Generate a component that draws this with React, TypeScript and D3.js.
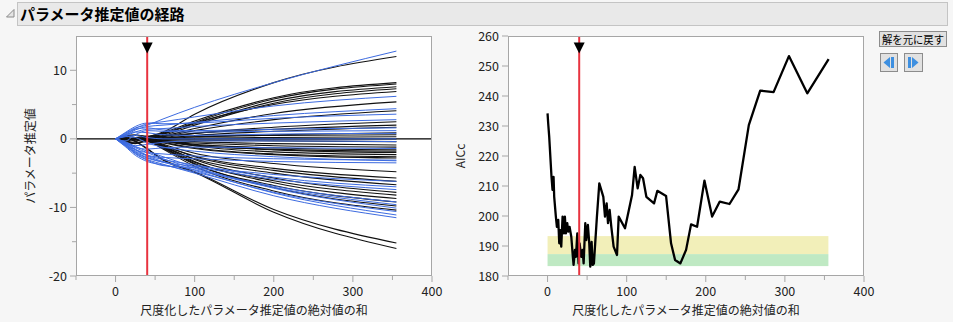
import React from "react";
import * as d3 from "d3";

// x knots (scaled sum of |estimates|) at which path values are given (value at 0 is 0)
const KX = [0, 12, 25, 40, 60, 100, 200, 355];

// values at KX[1..] for each parameter path
const BLACK_PATHS: number[][] = [
  [0, 0.2, 0.3, 1.0, 3.6, 8.2, 12.0],
  [0.3, 0.5, 0.4, 0.9, 2.6, 6.0, 8.2],
  [0, 0, 0.1, 0.7, 2.4, 5.8, 8.0],
  [0, 0.1, 0.2, 0.8, 2.2, 5.5, 7.6],
  [0, 0, 0, 0.5, 2.0, 5.2, 7.3],
  [-0.3, -0.1, 0.2, 0.7, 2.3, 5.0, 6.9],
  [0, 0, 0.1, 0.4, 1.5, 3.7, 5.4],
  [0, 0, 0, 0.3, 1.2, 2.8, 4.1],
  [0, 0, 0, 0.2, 0.8, 1.7, 2.5],
  [0.4, 0.6, 0.3, 0.4, 0.8, 1.4, 2.0],
  [0, 0, 0, 0.1, 0.5, 1.1, 1.7],
  [0, 0, 0, 0, 0.3, 0.6, 0.9],
  [-0.4, -0.6, -0.2, 0.1, 0.3, 0.5, 0.6],
  [0, 0, 0, 0, 0.1, 0.2, 0.3],
  [0.2, -0.3, 0, 0, 0, 0, 0],
  [0, 0, 0, -0.1, -0.2, -0.3, -0.4],
  [0, 0, 0, -0.2, -0.4, -0.7, -0.9],
  [-0.5, -0.7, -0.3, -0.4, -0.6, -1.0, -1.2],
  [0, 0, 0, -0.3, -0.8, -1.3, -1.6],
  [0, 0, -0.1, -0.4, -1.0, -1.5, -1.8],
  [0, 0, 0, -0.3, -0.9, -1.6, -2.0],
  [0.3, 0.5, 0.2, -0.2, -1.0, -1.9, -2.3],
  [0, 0, 0, -0.5, -1.3, -2.2, -2.6],
  [0, 0, -0.2, -0.6, -1.4, -2.3, -2.8],
  [0, 0, 0, -0.8, -2.1, -3.6, -4.8],
  [0, 0, -0.2, -1.0, -2.5, -4.3, -5.7],
  [0, 0, 0, -0.9, -2.6, -4.6, -6.2],
  [-0.3, -0.5, -0.4, -1.2, -2.9, -5.0, -6.7],
  [0, 0, 0, -1.0, -3.0, -5.7, -7.8],
  [0, 0, -0.1, -1.3, -3.4, -6.1, -8.2],
  [0, 0, 0, -1.1, -3.3, -6.4, -8.7],
  [0, 0, -0.3, -1.4, -3.7, -6.8, -9.2],
  [0, 0, 0, -1.2, -3.6, -7.1, -9.8],
  [0, 0, -0.2, -1.5, -4.0, -7.6, -10.4],
  [0.2, -0.4, -1.5, -3.0, -4.8, -10.3, -15.2],
  [0.3, -0.3, -1.4, -3.1, -4.9, -10.7, -16.0],
];

const BLUE_PATHS: number[][] = [
  [0.8, 1.6, 2.0, 2.9, 4.6, 8.2, 12.8],
  [0.6, 1.5, 2.2, 2.5, 3.2, 4.8, 6.2],
  [0.5, 1.3, 1.8, 2.0, 2.4, 3.4, 4.4],
  [0.9, 1.8, 2.3, 2.2, 2.3, 3.0, 3.6],
  [0.4, 1.0, 1.4, 1.5, 1.8, 2.3, 2.8],
  [0.7, 1.4, 1.6, 1.3, 1.2, 1.4, 1.6],
  [-0.3, 0.6, 1.2, 1.1, 1.0, 1.1, 1.2],
  [0.5, 1.0, 0.9, 0.6, 0.5, 0.7, 0.8],
  [0.3, 0.5, 0.2, 0, 0, 0, 0],
  [-0.5, -1.0, -0.8, -0.5, -0.3, -0.3, -0.4],
  [-0.6, -1.2, -1.5, -1.3, -1.2, -1.3, -1.4],
  [-0.8, -1.6, -2.0, -2.2, -2.5, -2.9, -3.1],
  [0.4, 0.2, -0.6, -1.2, -1.8, -2.6, -3.2],
  [-0.7, -1.8, -2.4, -2.7, -2.9, -3.3, -3.5],
  [-0.9, -2.0, -2.8, -3.4, -4.0, -5.2, -6.2],
  [-0.6, -1.5, -2.4, -3.0, -3.8, -5.6, -7.0],
  [-1.0, -2.2, -3.1, -3.9, -4.2, -5.9, -7.4],
  [-0.5, -1.3, -2.0, -2.9, -4.3, -6.9, -9.2],
  [-0.8, -1.9, -2.7, -3.4, -4.5, -7.1, -9.6],
  [-0.4, -1.1, -1.8, -2.6, -4.1, -7.2, -10.1],
  [-1.1, -2.4, -3.3, -3.8, -4.8, -7.8, -10.6],
  [-0.6, -1.6, -2.5, -3.3, -4.6, -7.9, -11.1],
  [-0.9, -2.1, -3.0, -3.7, -5.0, -8.3, -11.5],
];

// AICc path
const AIC_X = [0, 0.8, 2.1, 5, 6.3, 7.6, 8.4, 10.5, 11.8, 13.5, 14.8, 16, 17.3, 19, 20.7, 21.9, 23.2, 24.9, 26.2, 27.8, 30, 32, 32.9, 34.6, 35.9, 37.6, 39.2, 40.5, 42.6, 44.3, 45.6, 47.7, 48.9, 51, 52.7, 54, 55.7, 57, 58.6, 62.4, 65.4, 70.5, 72.6, 74.7, 76.4, 78.5, 80.6, 83.5, 87.8, 89.9, 97.9, 106.8, 110.1, 113.9, 117.3, 120.7, 124.9, 134.6, 138.8, 149.8, 156.1, 161.2, 167.9, 175.1, 181.4, 189, 198.3, 208, 217.7, 230, 241.4, 254.4, 268.8, 285.7, 305.1, 328.3, 355.3];
const AIC_Y = [234.2, 230.9, 226.4, 213, 208.7, 213, 206.4, 199.8, 196.4, 198.7, 190.9, 195.3, 189.8, 199.8, 194.2, 199.8, 194.2, 197.6, 194.8, 196.4, 193.1, 186.4, 183.7, 188.7, 186.4, 194.2, 184.2, 190.9, 186.4, 188.7, 184.2, 197.6, 192, 197, 190.9, 183.1, 191.4, 183.7, 184.2, 199.8, 210.9, 206.4, 199.8, 204.2, 197.6, 202, 196.4, 189.8, 187, 199.8, 195.9, 207, 216.4, 209.2, 213.7, 212.6, 206.4, 204.2, 208.4, 206.7, 190.9, 185.3, 184.2, 188.7, 197.2, 196.4, 211.8, 199.8, 204.8, 204, 208.9, 230.3, 241.8, 241.3, 253.3, 240.9, 252.3];

const AIC_MIN = 183.3;
const BAND_GREEN = [AIC_MIN, AIC_MIN + 4];
const BAND_YELLOW = [AIC_MIN + 4, AIC_MIN + 10];
const SELECTED_X = 40;
const PATH_END = 355;

const X_MAJOR = [0, 100, 200, 300, 400];
const X_MINOR = [-50, 50, 150, 250, 350];
const LY_MAJOR = [-20, -10, 0, 10];
const LY_MINOR = [-15, -5, 5];
const RY_MAJOR = [180, 190, 200, 210, 220, 230, 240, 250, 260];

const TITLE = "パラメータ推定値の経路";
const X_TITLE = "尺度化したパラメータ推定値の絶対値の和";
const LY_TITLE = "パラメータ推定値";
const RY_TITLE = "AICc";
const BTN_TEXT = "解を元に戻す";

const FONT = "'Noto Sans CJK JP', 'Noto Sans', sans-serif";
const BLUE = "#3d6be0";
const RED = "#e8333f";
const FRAME = "#a6a6a6";

const TOP = 36;
const BOTTOM = 276;

function Axes({ x, y, yMajor, yMinor, xTitle, yTitle, yTitleX, left, right }: any) {
  return (
    <g>
      {X_MAJOR.map((t) => (
        <g key={"xm" + t}>
          <line x1={x(t)} x2={x(t)} y1={BOTTOM} y2={BOTTOM + 6} stroke={FRAME} />
          <text x={x(t)} y={296} textAnchor="middle" fontSize={12.5} fill="#222" fontFamily={FONT}>{t}</text>
        </g>
      ))}
      {X_MINOR.map((t) => (
        <line key={"xn" + t} x1={x(t)} x2={x(t)} y1={BOTTOM} y2={BOTTOM + 4} stroke={FRAME} />
      ))}
      {yMajor.map((t: number) => (
        <g key={"ym" + t}>
          <line x1={left - 6} x2={left} y1={y(t)} y2={y(t)} stroke={FRAME} />
          <text x={left - 9} y={y(t) + 4.5} textAnchor="end" fontSize={12.5} fill="#222" fontFamily={FONT}>{t}</text>
        </g>
      ))}
      {yMinor.map((t: number) => (
        <line key={"yn" + t} x1={left - 4} x2={left} y1={y(t)} y2={y(t)} stroke={FRAME} />
      ))}
      <text x={(left + right) / 2} y={315} textAnchor="middle" fontSize={12} fill="#222" fontFamily={FONT}>{xTitle}</text>
      <text transform={`translate(${yTitleX},${(TOP + BOTTOM) / 2}) rotate(-90)`} textAnchor="middle" fontSize={12} fill="#222" fontFamily={FONT}>{yTitle}</text>
    </g>
  );
}

export default function App() {
  const L = { left: 76, right: 432 };
  const R = { left: 508, right: 864 };
  const xL = d3.scaleLinear().domain([-50, 400]).range([L.left, L.right]);
  const yL = d3.scaleLinear().domain([-20, 15]).range([BOTTOM, TOP]);
  const xR = d3.scaleLinear().domain([-50, 400]).range([R.left, R.right]);
  const yR = d3.scaleLinear().domain([180, 260]).range([BOTTOM, TOP]);

  const pathLine = d3
    .line<[number, number]>()
    .x((d) => xL(d[0]))
    .y((d) => yL(d[1]))
    .curve(d3.curveMonotoneX);
  const toPts = (row: number[]): [number, number][] => KX.map((kx, i) => [kx, i === 0 ? 0 : row[i - 1]]);

  const aicLine = d3
    .line<number>()
    .x((_, i) => xR(AIC_X[i]))
    .y((d) => yR(d));

  const tri = (cx: number) => `M${cx - 5.5},42.5 L${cx + 5.5},42.5 L${cx},53.5 Z`;

  return (
    <svg width={953} height={322} style={{ position: "absolute", left: 0, top: 0 }} fontFamily={FONT}>
      <rect x={0} y={0} width={953} height={322} fill="#f6f6f6" />
      {/* title bar */}
      <rect x={17.5} y={2.5} width={930} height={23} fill="#e9e9e9" stroke="#c4c4c4" />
      <path d="M14,9.5 L14,17 L6.5,17 Z" fill="#e4e4e4" stroke="#8a8a8a" strokeWidth={1} />
      <text x={20} y={20} fontSize={15} fontWeight="bold" fill="#000" fontFamily={FONT}>{TITLE}</text>

      <defs>
        <clipPath id="clipL">
          <rect x={L.left} y={TOP} width={L.right - L.left} height={BOTTOM - TOP} />
        </clipPath>
        <clipPath id="clipR">
          <rect x={R.left} y={TOP} width={R.right - R.left} height={BOTTOM - TOP} />
        </clipPath>
      </defs>

      {/* left plot */}
      <rect x={L.left} y={TOP} width={L.right - L.left} height={BOTTOM - TOP} fill="#fff" />
      <g clipPath="url(#clipL)">
        <line x1={L.left} x2={L.right} y1={yL(0)} y2={yL(0)} stroke="#000" strokeWidth={1.2} />
        {BLACK_PATHS.map((r, i) => (
          <path key={"k" + i} d={pathLine(toPts(r)) || ""} fill="none" stroke="#111" strokeWidth={1.1} />
        ))}
        {BLUE_PATHS.map((r, i) => (
          <path key={"b" + i} d={pathLine(toPts(r)) || ""} fill="none" stroke={BLUE} strokeWidth={1} />
        ))}
        <line x1={xL(SELECTED_X)} x2={xL(SELECTED_X)} y1={TOP} y2={BOTTOM} stroke={RED} strokeWidth={2} />
        <path d={tri(xL(SELECTED_X))} fill="#000" />
      </g>
      <rect x={L.left + 0.5} y={TOP + 0.5} width={L.right - L.left - 1} height={BOTTOM - TOP - 1} fill="none" stroke={FRAME} />
      <Axes x={xL} y={yL} yMajor={LY_MAJOR} yMinor={LY_MINOR} xTitle={X_TITLE} yTitle={LY_TITLE} yTitleX={35} left={L.left} right={L.right} />

      {/* right plot */}
      <rect x={R.left} y={TOP} width={R.right - R.left} height={BOTTOM - TOP} fill="#fff" />
      <g clipPath="url(#clipR)">
        <rect x={xR(0)} y={yR(BAND_YELLOW[1])} width={xR(PATH_END) - xR(0)} height={yR(BAND_YELLOW[0]) - yR(BAND_YELLOW[1])} fill="#f2efb9" />
        <rect x={xR(0)} y={yR(BAND_GREEN[1])} width={xR(PATH_END) - xR(0)} height={yR(BAND_GREEN[0]) - yR(BAND_GREEN[1])} fill="#bfe9c3" />
        <path d={aicLine(AIC_Y) || ""} fill="none" stroke="#000" strokeWidth={2.3} strokeLinejoin="round" />
        <line x1={xR(SELECTED_X)} x2={xR(SELECTED_X)} y1={TOP} y2={BOTTOM} stroke={RED} strokeWidth={2} />
        <path d={tri(xR(SELECTED_X))} fill="#000" />
      </g>
      <rect x={R.left + 0.5} y={TOP + 0.5} width={R.right - R.left - 1} height={BOTTOM - TOP - 1} fill="none" stroke={FRAME} />
      <Axes x={xR} y={yR} yMajor={RY_MAJOR} yMinor={[]} xTitle={X_TITLE} yTitle={RY_TITLE} yTitleX={465} left={R.left} right={R.right} />

      {/* buttons */}
      <rect x={879.5} y={31.5} width={67} height={15} fill="#e1e1e1" stroke="#8c8c8c" />
      <text x={913} y={43.5} textAnchor="middle" fontSize={11} textLength={62} lengthAdjust="spacingAndGlyphs" fill="#000" fontFamily={FONT}>{BTN_TEXT}</text>
      <rect x={880.5} y={53.5} width={17} height={18} fill="#e1e1e1" stroke="#8c8c8c" />
      <path d="M883.5,62.5 L890,57 L890,68 Z" fill="#3d8fe0" />
      <rect x={891} y={57} width={3} height={11} fill="#3d8fe0" />
      <rect x={904.5} y={53.5} width={18} height={18} fill="#e1e1e1" stroke="#8c8c8c" />
      <rect x={908} y={57} width={3} height={11} fill="#3d8fe0" />
      <path d="M912,57 L918.5,62.5 L912,68 Z" fill="#3d8fe0" />
    </svg>
  );
}
